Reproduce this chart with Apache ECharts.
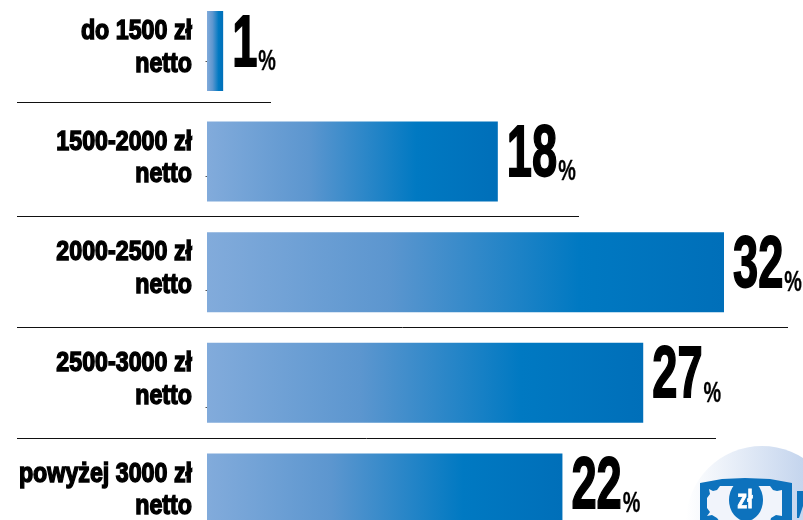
<!DOCTYPE html>
<html><head><meta charset="utf-8">
<style>html,body{margin:0;padding:0;background:#fff}#c{width:803px;height:520px}</style>
<script src="https://cdn.jsdelivr.net/npm/echarts@6/dist/echarts.min.js"></script>
</head><body><div id="c"></div>
<script>
const categories = ['do 1500 zł','1500-2000 zł','2000-2500 zł','2500-3000 zł','powyżej 3000 zł'];
const secondLine = ['netto','netto','netto','netto','netto'];
const values = [1,18,32,27,22];
const FONT = '"Liberation Sans Narrow","Liberation Sans"';
const ctx = document.createElement('canvas').getContext('2d');
const chart = echarts.init(document.getElementById('c'));
function t(text,x,y,size,sx,align,vAlign,extra){
  return {type:'text',x:x,y:y,scaleX:sx,scaleY:1,silent:true,style:Object.assign({
    x:0,y:0,text:text,fontFamily:FONT,fontWeight:'bold',fontSize:size,fill:'#000',
    stroke:'#000',lineWidth:1.5,align:align,verticalAlign:vAlign},extra||{})};
}
function line(x1,x2,y){return {type:'line',silent:true,shape:{x1:x1,y1:y,x2:x2,y2:y},style:{stroke:'#111',lineWidth:1}};}
function tick(y){return {type:'rect',silent:true,shape:{x:205.5,y:y,width:1.5,height:1},style:{fill:'#555'}};}
const billOuter=[[700,483],[722,479],[745,478],[770,479],[792,483],[792,540],[700,540]];
const billInner=[[709,489],[713,491],[717,490],[720,486],[770,486],[773,490],[777,491],[782,490],[782,516],[776,515],[771,518],[770,522],[720,522],[717,518],[712,515],[707,516],[710,512],[707,508],[707,498],[710,494]];
chart.setOption({
  animation:false,
  grid:{left:207,top:-4.3,right:79,bottom:-28.7,outerBoundsMode:'none',containLabel:false},
  xAxis:{type:'value',min:0,max:32,show:false},
  yAxis:{type:'category',data:categories,inverse:true,show:false},
  graphic:{elements:[
    {type:'circle',z:0,silent:true,shape:{cx:762,cy:522,r:76},style:{fill:{type:'linear',x:0,y:0,x2:1,y2:0,colorStops:[{offset:0,color:'#ffffff'},{offset:0.75,color:'#c6d6ee'},{offset:1,color:'#bccfeb'}]}}},
    {type:'polygon',z:1,silent:true,shape:{points:billOuter},style:{fill:'#0d72bd'}},
    {type:'polygon',z:2,silent:true,shape:{points:billInner},style:{fill:'#f1f4fb'}},
    {type:'circle',z:3,silent:true,x:746,y:500,scaleX:0.81,shape:{cx:0,cy:0,r:21},style:{fill:'#0d72bd'}},
    {type:'text',z:4,silent:true,x:745,y:501,scaleX:0.8,style:{x:0,y:0,text:'zł',fontFamily:FONT,fontWeight:'bold',fontSize:25,fill:'#fff',stroke:'#fff',lineWidth:0.8,align:'center',verticalAlign:'middle'}},
    {type:'polygon',z:1,silent:true,shape:{points:[[797,491],[803,491],[803,506],[799,518],[797,518]]},style:{fill:'#0d72bd'}},
    line(17,271,102.5),line(17,579,216.5),line(17,788,327.5),line(17,716,438.5),
    tick(61),tick(176),tick(290),tick(407)
  ]},
  series:[{
    type:'bar',data:values,barWidth:80,silent:true,
    itemStyle:{color:{type:'linear',x:0,y:0,x2:1,y2:0,colorStops:[
      {offset:0,color:'#82abdb'},{offset:0.35,color:'#5c96cf'},{offset:0.72,color:'#0079c2'},{offset:1,color:'#006fb9'}]}}
  },{
    type:'custom',silent:true,coordinateSystem:'cartesian2d',z:5,
    clip:false,
    data:values.map((v,i)=>[v,i]),
    encode:{x:0,y:1},
    renderItem(params,api){
      const i=api.value(1), v=api.value(0);
      const p=api.coord([v,i]);
      const zero=api.coord([0,i]);
      const cy=p[1];
      const s=String(v);
      const numSize=73, numSX=0.62;
      ctx.font='bold '+numSize+'px '+FONT;
      const w=ctx.measureText(s).width*numSX;
      const nx=p[0]+9;
      return {type:'group',children:[
        t(categories[i],zero[0]-15,cy-19.5,28,0.83,'right','middle'),
        t(secondLine[i],zero[0]-15,cy+13,28,0.83,'right','middle'),
        t(s,nx,cy+31,numSize,numSX,'left','bottom',{lineWidth:1.8}),
        t('%',nx+w+1,cy+25.5,30,0.66,'left','bottom',{lineWidth:0.3})
      ]};
    }
  }]
});
</script></body></html>
